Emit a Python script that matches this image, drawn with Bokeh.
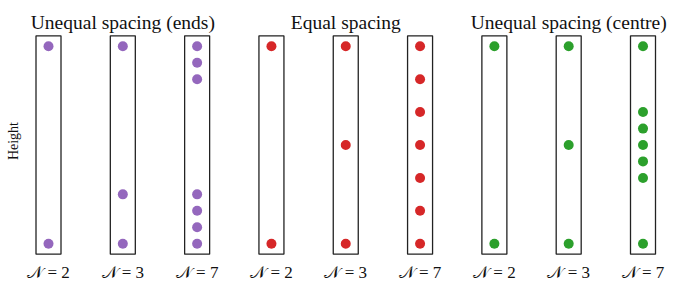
import math
from bokeh.plotting import figure
from bokeh.models import ColumnDataSource, Range1d
from bokeh.core.properties import value
from bokeh.embed import file_html
from bokeh.resources import INLINE

# ---- data ----
group_titles = ["Unequal spacing (ends)", "Equal spacing", "Unequal spacing (centre)"]
group_colors = ["#9467bd", "#d62728", "#2ca02c"]
panel_counts = [2, 3, 7]
tick_labels = ["\U0001D4A9 = 2", "\U0001D4A9 = 3", "\U0001D4A9 = 7"]

ends_2 = [0.0, 1.0]
ends_3 = [0.0, 0.25, 1.0]
ends_7 = [0.0, 0.083, 0.167, 0.25, 0.833, 0.917, 1.0]
equal_2 = [0.0, 1.0]
equal_3 = [0.0, 0.5, 1.0]
equal_7 = [0.0, 0.167, 0.333, 0.5, 0.667, 0.833, 1.0]
centre_2 = [0.0, 1.0]
centre_3 = [0.0, 0.5, 1.0]
centre_7 = [0.0, 0.333, 0.417, 0.5, 0.583, 0.667, 1.0]

groups = [[ends_2, ends_3, ends_7], [equal_2, equal_3, equal_7], [centre_2, centre_3, centre_7]]

SERIF = value("Liberation Serif")

p = figure(width=670, height=282, output_backend="svg", toolbar_location=None,
           x_range=Range1d(-0.646, 8.370), y_range=Range1d(-0.1966, 1.232),
           min_border=0, min_border_left=0, min_border_right=0,
           min_border_top=0, min_border_bottom=0)
p.axis.visible = False
p.grid.visible = False
p.outline_line_color = None
p.background_fill_color = "white"
p.border_fill_color = "white"

# panel boxes
box_x = list(range(9))
p.rect(x=box_x, y=[0.5] * 9, width=25, width_units="screen", height=1.106,
       fill_color=None, line_color="#222222", line_width=1.3)

# dots
xs, ys, cs = [], [], []
for gi, grp in enumerate(groups):
    for pi, vals in enumerate(grp):
        idx = gi * 3 + pi
        for v in vals:
            xs.append(idx)
            ys.append(v)
            cs.append(group_colors[gi])
src = ColumnDataSource(dict(x=xs, y=ys, c=cs))
p.scatter("x", "y", source=src, size=10, fill_color="c", line_color=None)

# group titles
p.text(x=[1, 4, 7], y=[1.0] * 3, text=group_titles, y_offset=-24,
       text_align="center", text_baseline="alphabetic",
       text_font=SERIF, text_font_size="19.5px", text_color="#111111")

# bottom labels
p.text(x=box_x, y=[0.0] * 9, text=tick_labels * 3, y_offset=29,
       text_align="center", text_baseline="middle",
       text_font=SERIF, text_font_size="17px", text_color="#111111")

# y label
p.text(x=[-0.471], y=[0.52], text=["Height"], angle=math.pi / 2,
       text_align="center", text_baseline="middle",
       text_font=SERIF, text_font_size="14px", text_color="#111111")

open("out.html", "w").write(file_html(p, INLINE))
